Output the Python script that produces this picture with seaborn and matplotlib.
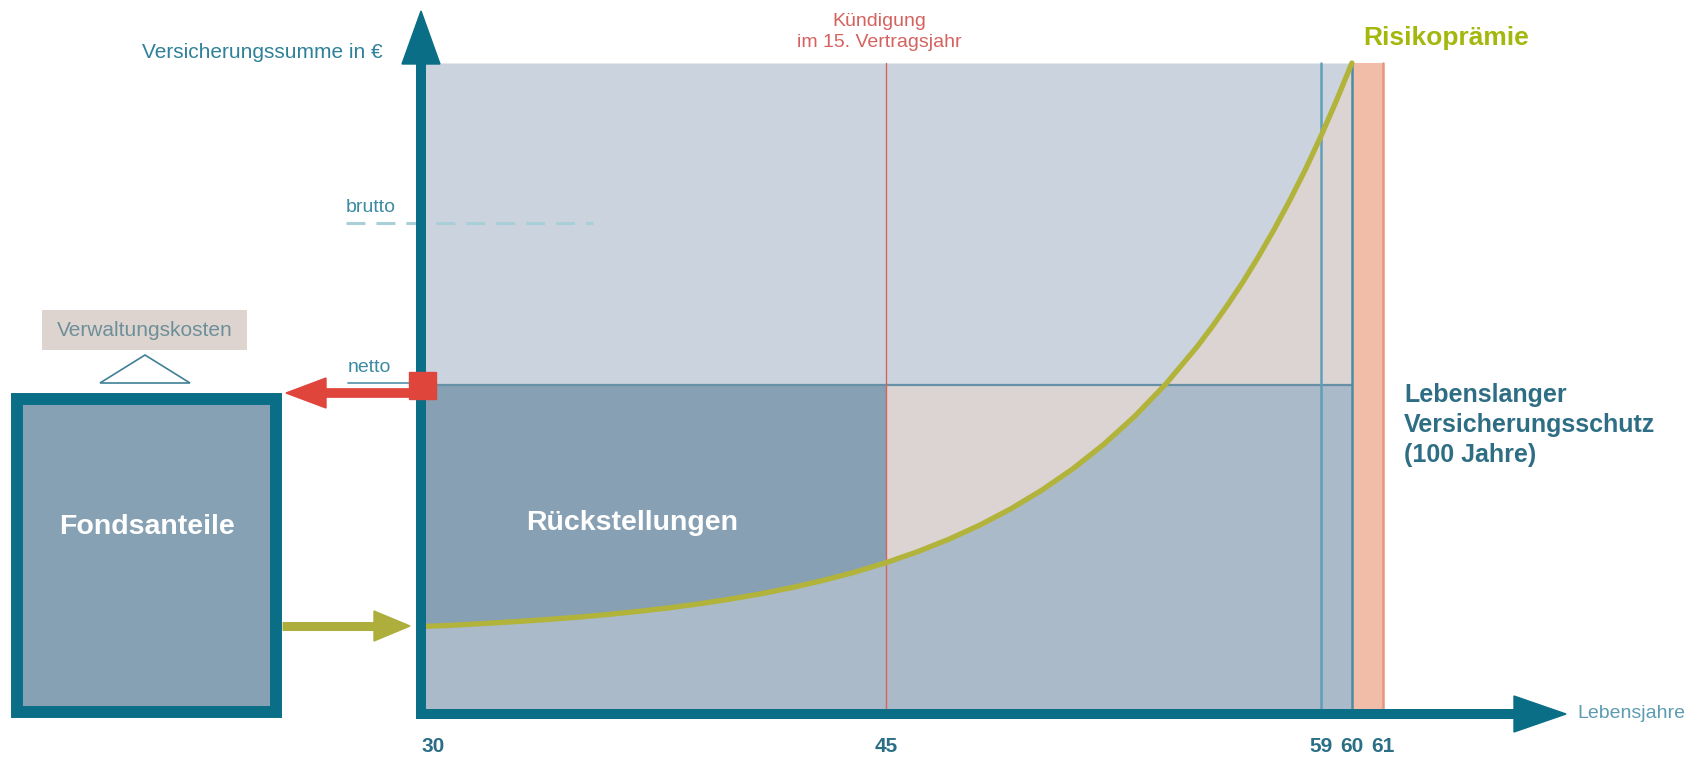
import numpy as np
import matplotlib
matplotlib.use('Agg')
from matplotlib import pyplot as plt
from matplotlib.patches import Rectangle, Polygon
import seaborn as sns

# data: risk premium curve over age, levels in % of sum insured
ages = np.array([30, 31, 32, 33, 34, 35, 36, 37, 38, 39, 40, 41, 42, 43, 44, 45, 46, 47, 48, 49,
                 50, 51, 52, 53, 54, 55, 55.5, 56, 56.5, 57, 57.5, 58, 58.5, 59, 59.5, 60])
risk = np.array([13.3, 13.5, 13.76, 14.04, 14.36, 14.72, 15.15, 15.63, 16.18, 16.82, 17.55, 18.38,
                 19.34, 20.44, 21.7, 23.15, 24.81, 26.71, 28.89, 31.39, 34.26, 37.54, 41.32, 45.64,
                 50.6, 56.29, 59.45, 62.82, 66.4, 70.3, 74.45, 78.88, 83.6, 88.72, 94.2, 100])
netto = 50.5
brutto = 75.4
top = 100
kuendigung_age = 45
marker_ages = [59, 60, 61]
tick_ages = [30, 45, 59, 60, 61]
tick_labels = ['30', '45', '59', '60', '61']

sns.set_theme(style='white')
plt.rcParams['font.family'] = ['Liberation Sans', 'DejaVu Sans']

# reference pixel -> data coordinates (for the decorations around the plot)
X0, KX, Y0, KY = 421, 31.03, 713, 6.5


def px(x, y):
    return 30 + (x - X0) / KX, (Y0 - y) / KY


def poly(points, **kw):
    return Polygon([px(x, y) for x, y in points], closed=True, **kw)


fig = plt.figure(figsize=(17.06, 7.57), dpi=100)
ax = fig.add_axes([0, 0, 1, 1])
xl, _ = px(0, 0)
xr, _ = px(1706, 0)
_, yb = px(0, 757)
_, yt = px(0, 0)
ax.set_xlim(xl, xr)
ax.set_ylim(yb, yt)
ax.axis('off')

teal = '#0b6e87'
light_teal = '#3d8ba2'

# areas
ax.fill_between(ages, np.maximum(risk, netto), top, color='#cbd4de', lw=0)
ax.fill_between(ages, 0, np.minimum(risk, netto), color='#abbac9', lw=0)
left = ages <= kuendigung_age
right = ages >= kuendigung_age
ax.fill_between(ages[left], risk[left], netto, color='#87a0b3', lw=0)
ax.fill_between(ages[right], risk[right], netto, color='#dcd4d2', lw=0)
ax.fill_between([60, 61], 0, top, color='#f1bca8', lw=0)

# lines
ax.plot([30, 60], [netto, netto], color='#6590a5', lw=1.6)
ax.plot([kuendigung_age] * 2, [0, top], color='#d8625c', lw=1)
for a, c in zip(marker_ages, ['#5f9fb8', '#4d8ca3', '#e99483']):
    ax.plot([a, a], [0, top], color=c, lw=1.8)
sns.lineplot(x=ages, y=risk, color='#b2b33a', lw=3.8, ax=ax, zorder=5)

# brutto dashed line
bx0, by = px(346, 223)
bx1, _ = px(593, 223)
ax.plot([bx0, bx1], [by, by], color='#a9cfd9', lw=2.2, dashes=(6.2, 3.6), zorder=3)
ax.text(*px(346, 207), 'brutto', color=light_teal, fontsize=14, ha='left', va='center')

# netto label
nx0, ny = px(348, 383)
nx1, _ = px(411, 383)
ax.plot([nx0, nx1], [ny, ny], color='#5f9ab0', lw=1.3)
ax.text(*px(348, 368), 'netto', color=light_teal, fontsize=14, ha='left', va='center')

# axes with arrows
ax.plot(*zip(px(421, 716), px(421, 63)), color=teal, lw=7.2, solid_capstyle='butt', zorder=8)
ax.add_patch(poly([(402, 64), (440, 64), (421, 11)], color=teal, zorder=8))
ax.plot(*zip(px(416, 714), px(1516, 714)), color=teal, lw=7.2, solid_capstyle='butt', zorder=8)
ax.add_patch(poly([(1514, 696), (1514, 732), (1566, 714)], color=teal, zorder=8))

# red square + arrow to funds
ax.add_patch(poly([(409, 372), (436, 372), (436, 399), (409, 399)], color='#e0453c', zorder=9))
ax.plot(*zip(px(411, 393), px(322, 393)), color='#e0453c', lw=7, solid_capstyle='butt', zorder=9)
ax.add_patch(poly([(326, 378), (326, 408), (286, 393)], color='#e0453c', zorder=9))

# olive arrow from funds
ax.plot(*zip(px(282, 626), px(378, 626)), color='#aeae3c', lw=6.5, solid_capstyle='butt', zorder=9)
ax.add_patch(poly([(374, 611), (374, 641), (410, 626)], color='#aeae3c', zorder=9))

# fund box
bx, byy = px(17.5, 712)
bx2, byy2 = px(276, 399)
ax.add_patch(Rectangle((bx, byy), bx2 - bx, byy2 - byy, facecolor='#87a1b4', edgecolor=teal, lw=8.6, zorder=6))
ax.text(*px(147, 527), 'Fondsanteile', color='white', fontsize=20.5, fontweight='bold',
        ha='center', va='center', zorder=7)

# admin costs
ax.add_patch(poly([(42, 310), (247, 310), (247, 350), (42, 350)], color='#ddd4d0', lw=0))
ax.text(*px(145, 331), 'Verwaltungskosten', color='#6e8f99', fontsize=15, ha='center', va='center')
ax.add_patch(poly([(100, 383), (190, 383), (145, 355)], facecolor='white', edgecolor='#3f8196', lw=1.2))

# texts
ax.text(*px(383, 53), 'Versicherungssumme in €', color='#2f819a', fontsize=15, ha='right', va='center')
ax.text(*px(879, 32), 'Kündigung\nim 15. Vertragsjahr', color='#d4625f', fontsize=14,
        ha='center', va='center', multialignment='center', linespacing=1.3)
ax.text(*px(1363, 38), 'Risikoprämie', color='#a3b70c', fontsize=19, fontweight='bold',
        ha='left', va='center')
ax.text(*px(1404, 425), 'Lebenslanger\nVersicherungsschutz\n(100 Jahre)', color='#2e6e84',
        fontsize=18, fontweight='bold', ha='left', va='center', linespacing=1.3)
ax.text(*px(632, 523), 'Rückstellungen', color='white', fontsize=20.5, fontweight='bold',
        ha='center', va='center', zorder=7)
ax.text(*px(1577, 714), 'Lebensjahre', color='#5d9bb1', fontsize=14, ha='left', va='center')

# tick labels
_, ty = px(0, 747)
for a, lab in zip(tick_ages, tick_labels):
    ax.text(a, ty, lab, color='#2b6f86', fontsize=15, fontweight='bold',
            ha='left' if a == 30 else 'center', va='center')

fig.savefig('out.png', dpi=100)
